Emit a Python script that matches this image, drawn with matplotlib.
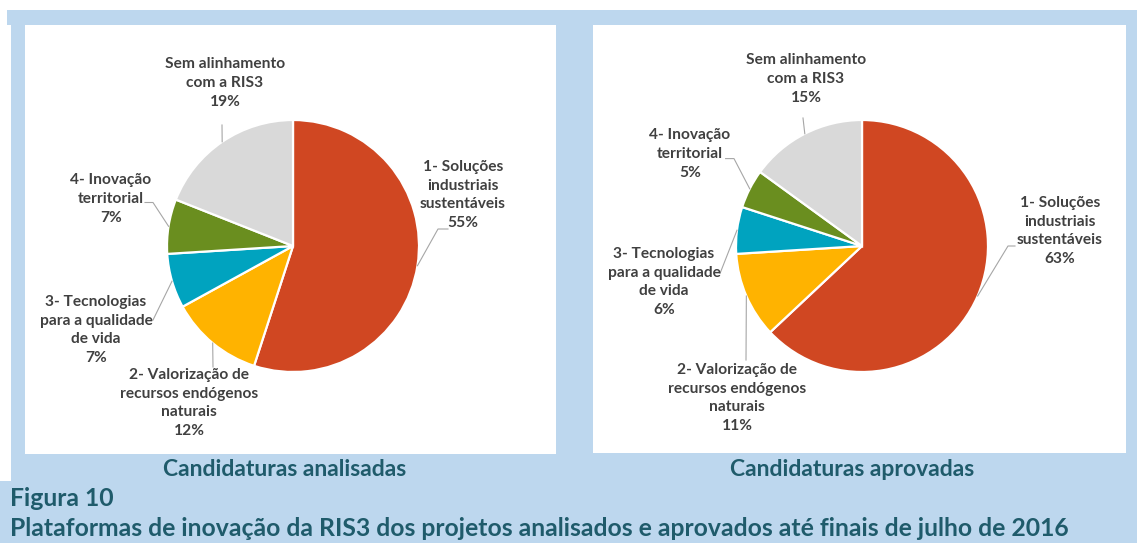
import matplotlib
matplotlib.use("Agg")
import matplotlib.pyplot as plt
import numpy as np
from matplotlib.patches import Rectangle

# ---------------- data ----------------
categories = ["1- Soluções\nindustriais\nsustentáveis",
              "2- Valorização de\nrecursos endógenos\nnaturais",
              "3- Tecnologias\npara a qualidade\nde vida",
              "4- Inovação\nterritorial",
              "Sem alinhamento\ncom a RIS3"]
analisadas = [55, 12, 7, 7, 19]
aprovadas = [63, 11, 6, 5, 15]
colors = ["#D04722", "#FFB300", "#00A3BF", "#6A8E1F", "#D9D9D9"]
panel_titles = ["Candidaturas analisadas", "Candidaturas aprovadas"]
fig_label = "Figura 10"
caption = "Plataformas de inovação da RIS3 dos projetos analisados e aprovados até finais de julho de 2016"

# ---------------- layout (pixels, y from top) ----------------
W, H = 1137, 543
BLUE = "#BDD7EE"
TEAL = "#1F5B6B"
LABEL_COLOR = "#404040"
FONT = "Lato"

pie_centers = [(293, 246), (862, 246)]
pie_radius = 126
label_pos = [
    [(463, 195), (189, 403), (96, 330), (111, 199), (225, 83)],
    [(1060, 231), (737, 398), (664, 282), (690, 154), (806, 79)],
]
leader_pts = [
    [[(438, 229), (448, 229)], [(213, 367)], [(153, 320)], [(153, 202.5), (145, 202.5)], [(222, 125)]],
    [[(1008, 246), (1015, 246)], [(746, 360)], [(720, 273.5)], [(734, 158.6), (725.6, 158.6)], [(803, 118)]],
]

fig = plt.figure(figsize=(W / 100, H / 100), dpi=100)
fig.patch.set_facecolor("white")
ax = fig.add_axes([0, 0, 1, 1])


def Y(y):
    return H - y


def rect(x0, y0, x1, y1, color, z=0):
    ax.add_patch(Rectangle((x0, Y(y1)), x1 - x0, y1 - y0, facecolor=color,
                           edgecolor="none", zorder=z))


# background bands
rect(7, 10, W, 25, BLUE)
rect(11, 25, W, 481, BLUE)
rect(0, 481, W, H, BLUE)
# white panels
rect(25, 25, 556, 454, "white", 0.5)
rect(593, 25, 1126, 453, "white", 0.5)

for k, values in enumerate([analisadas, aprovadas]):
    cx, cy = pie_centers[k]
    wedges, _ = ax.pie(values, colors=colors, startangle=90, counterclock=False,
                       center=(cx, Y(cy)), radius=pie_radius,
                       wedgeprops=dict(edgecolor="white", linewidth=1.6), frame=True)
    for w in wedges:
        w.set_zorder(2)
    for i, w in enumerate(wedges):
        th = np.deg2rad((w.theta1 + w.theta2) / 2)
        px = w.center[0] + w.r * np.cos(th)
        py = w.center[1] + w.r * np.sin(th)
        xs = [px] + [p[0] for p in leader_pts[k][i]]
        ys = [py] + [Y(p[1]) for p in leader_pts[k][i]]
        ax.plot(xs, ys, color="#A6A6A6", lw=0.8, zorder=3)
        lx, ly = label_pos[k][i]
        ax.text(lx, Y(ly), f"{categories[i]}\n{values[i]}%", ha="center", va="center",
                fontsize=11.2, fontweight="bold", color=LABEL_COLOR, family=FONT,
                linespacing=1.42, zorder=4)

# panel titles
ax.text(285, Y(469), panel_titles[0], ha="center", va="center", fontsize=16.5,
        fontweight="bold", color=TEAL, family=FONT, zorder=4)
ax.text(852, Y(469), panel_titles[1], ha="center", va="center", fontsize=16.5,
        fontweight="bold", color=TEAL, family=FONT, zorder=4)
ax.text(10, Y(498), fig_label, ha="left", va="center", fontsize=17.8,
        fontweight="bold", color=TEAL, family=FONT, zorder=4)
ax.text(10, Y(529), caption, ha="left", va="center", fontsize=17.8,
        fontweight="bold", color=TEAL, family=FONT, zorder=4)

ax.set_xlim(0, W)
ax.set_ylim(0, H)
ax.set_aspect("auto")
ax.axis("off")

fig.savefig("out.png", dpi=100, facecolor="white")
